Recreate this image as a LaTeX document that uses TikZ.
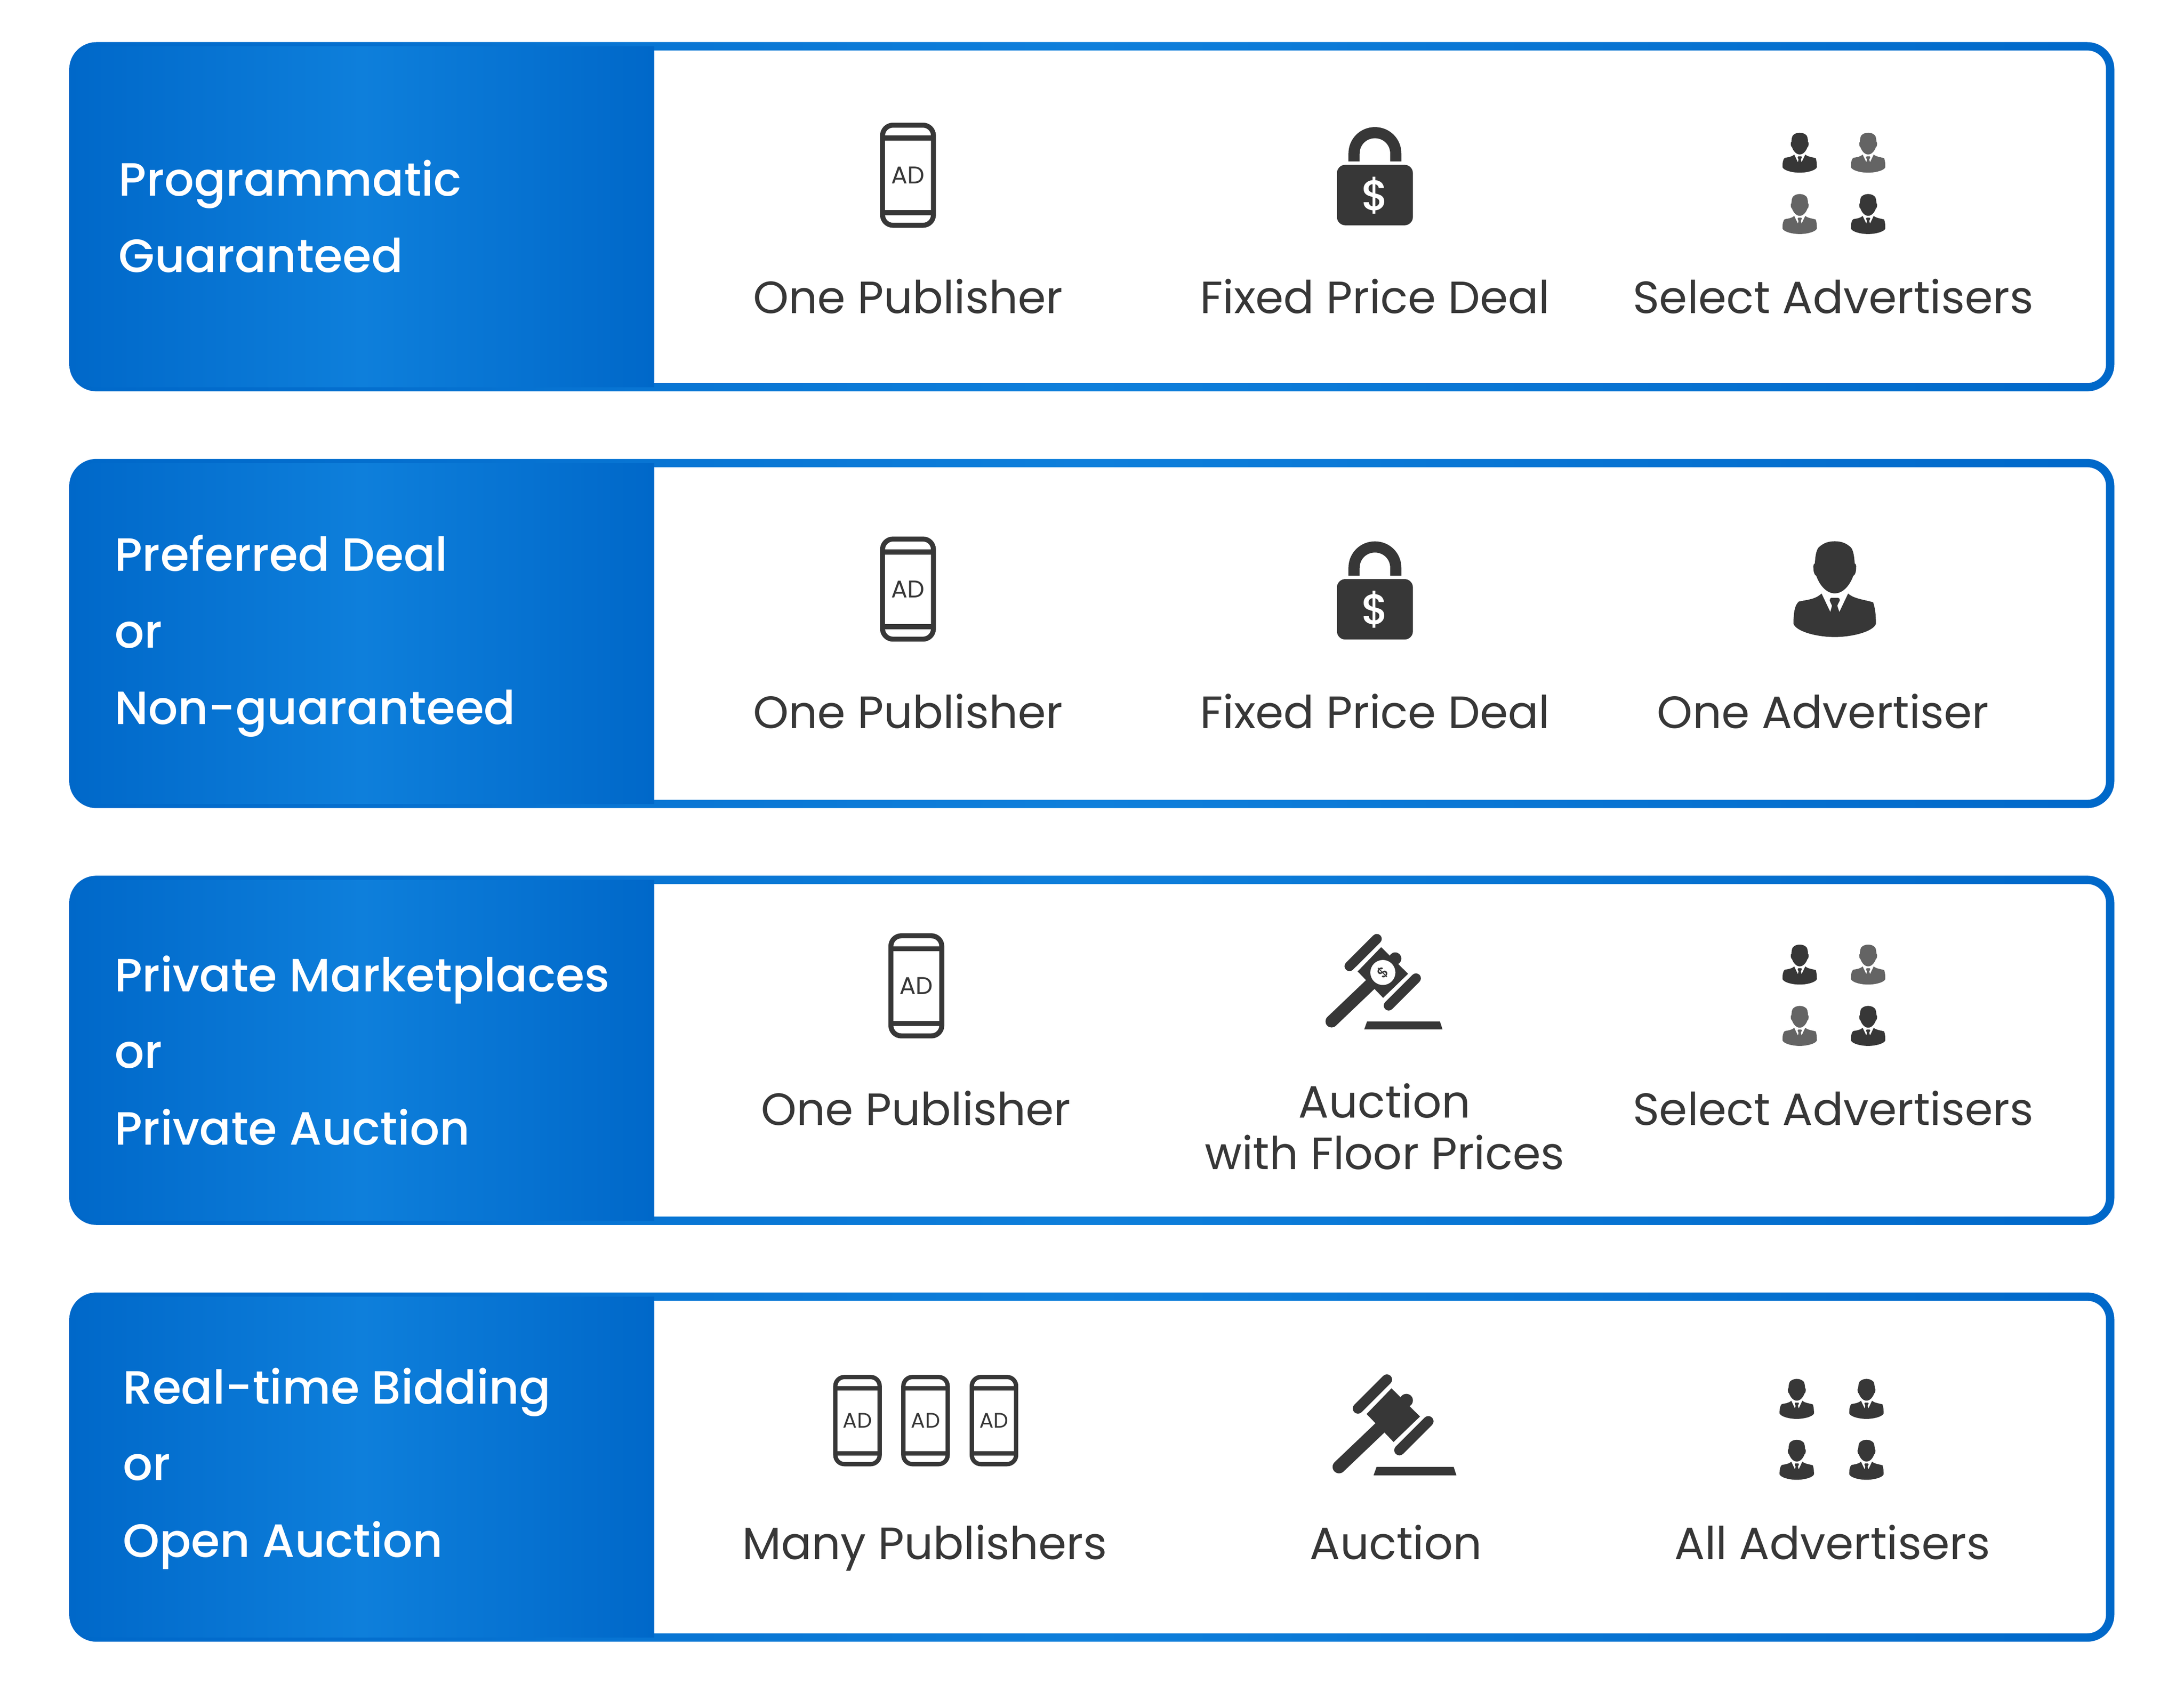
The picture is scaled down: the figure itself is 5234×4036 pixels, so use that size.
\documentclass[tikz,border=0pt]{standalone}
\usepackage{fontspec}
\usepackage{xcolor}
\setmainfont{Poppins}
\newfontfamily\titlefont{Poppins Medium}
\definecolor{banddark}{HTML}{0068C9}
\definecolor{bandlight}{HTML}{0E7FDB}
\definecolor{icondark}{HTML}{373737}
\definecolor{icongray}{HTML}{646464}
\usetikzlibrary{positioning}
\pgfdeclarehorizontalshading{bandfade}{100bp}{color(0bp)=(banddark);color(25bp)=(banddark);color(50bp)=(bandlight);color(75bp)=(banddark);color(100bp)=(banddark)}

\tikzset{
  title/.style={anchor=base west,inner sep=0pt,text=white,font=\titlefont\fontsize{31.8}{37}\selectfont},
  caption/.style={anchor=base,inner sep=0pt,text=icondark,align=center,font=\fontsize{30.8}{35}\selectfont},
  pics/panel/.style={code={
    \shade[shading=bandfade,rounded corners=.65cm] (0,0) rectangle (4901,837);
    \fill[white,rounded corners=.45cm] (1300,20) rectangle (4881,817);
    \shade[shading=bandfade] (1402,10) {[rounded corners=.6cm] -- (0,10) -- (0,827)} -- (1402,827) -- cycle;
  }},
  pics/phone/.style={code={
    \begin{scope}[scale=#1]
      \draw[icondark,line width=#1*3.4pt,rounded corners=#1*.25cm] (-61,-120) rectangle (61,120);
      \draw[icondark,line width=#1*3.4pt] (-61,-89) -- (61,-89) (-61,90) -- (61,90);
      \node[scale=#1,inner sep=0pt,text=icondark,font=\fontsize{16.5}{18}\selectfont] (-ad) at (0,0) {AD};
    \end{scope}
  }},
  pics/lock/.style={code={
    \fill[icondark,rounded corners=.2cm] (-91,-72) rectangle (91,73);
    \draw[icondark,line width=7.6pt] (-50,-80) -- (-50,-99) .. controls (-50,-127) and (-28,-149) .. (0,-149)
      .. controls (28,-149) and (50,-127) .. (50,-99) -- (50,-80);
    \node[inner sep=0pt,text=white,font=\titlefont\fontsize{29}{31}\selectfont] (-sign) at (0,1) {\$};
  }},
  pics/person/.style 2 args={code={
    \begin{scope}[scale=#1]
      \fill[#2] (0,-344) .. controls (58,-344) and (88,-325) .. (116,-300) .. controls (133,-280) and (141,-235) .. (143,-185)
        .. controls (153,-180) and (155,-170) .. (154,-155) .. controls (154,-125) and (146,-100) .. (133,-95)
        .. controls (108,-25) and (58,31) .. (0,31) .. controls (-58,31) and (-108,-25) .. (-133,-95)
        .. controls (-146,-100) and (-154,-125) .. (-154,-155) .. controls (-155,-170) and (-153,-180) .. (-143,-185)
        .. controls (-141,-235) and (-133,-280) .. (-116,-300) .. controls (-88,-325) and (-58,-344) .. (0,-344) -- cycle;
      \fill[#2] (-95,32) -- (-32,165) -- (-20,120) .. controls (-28,100) and (-38,85) .. (-36,78)
        .. controls (-34,68) and (-30,63) .. (-24,63) -- (24,63) .. controls (30,63) and (36,70) .. (36,80)
        .. controls (36,85) and (26,100) .. (18,120) -- (33,165) -- (96,32)
        .. controls (138,70) and (208,75) .. (276,95) .. controls (293,145) and (296,195) .. (296,250)
        .. controls (278,305) and (128,345) .. (0,345) .. controls (-132,345) and (-277,305) .. (-297,250)
        .. controls (-297,165) and (-287,115) .. (-259,90) .. controls (-192,75) and (-142,75) .. (-95,32) -- cycle;
    \end{scope}
  }},
  pics/gavel/.style={code={
    \begin{scope}[scale=#1]
      \draw[icondark,line width=#1*8.8pt,line cap=round] (0,0) -- (-130,124);
      \fill[icondark] (-4.3,-64.3) -- (64,3.3) -- (.7,64.3) -- (-64,-2.7) -- cycle;
      \fill[icondark] (31.3,-35.3) circle [radius=15.7];
      \draw[icondark,line width=#1*7.1pt,line cap=round] (-15.3,-85.3) -- (-84.7,-16) (84,14.7) -- (14.7,84);
      \fill[icondark] (-40,124) -- (144.7,124) -- (151.3,144.3) -- (-47.3,144.3) -- cycle;
    \end{scope}
  }},
}

\begin{document}
\begin{tikzpicture}[x=.01cm,y=-.01cm]
\useasboundingbox (0,0) rectangle (5234,4036);

\pic (PG_panel) at (166,101) {panel};
\pic (PD_panel) at (166,1100) {panel};
\pic (PM_panel) at (166,2099) {panel};
\pic (RT_panel) at (166,3098) {panel};

\node[title] (PG_t1) at (284,469) {Programmatic};
\node[title] (PG_t2) at (284,653) {Guaranteed};
\node[title] (PD_t1) at (274,1369) {Preferred Deal};
\node[title] (PD_t2) at (274,1553) {or};
\node[title] (PD_t3) at (274,1736) {Non-guaranteed};
\node[title] (PM_t1) at (274,2377) {Private Marketplaces};
\node[title] (PM_t2) at (274,2560) {or};
\node[title] (PM_t3) at (274,2744) {Private Auction};
\node[title] (RT_t1) at (294,3365) {Real-time Bidding};
\node[title] (RT_t2) at (294,3548) {or};
\node[title] (RT_t3) at (294,3732) {Open Auction};

\pic (PG_phone) at (2176,420) {phone=1};
\pic (PG_lock) at (3295,467) {lock};
\pic (PG_adv1) at (4313,366) {person={.139}{icondark}};
\pic (PG_adv2) at (4477,366) {person={.139}{icongray}};
\pic (PG_adv3) at (4313,513) {person={.139}{icongray}};
\pic (PG_adv4) at (4477,513) {person={.139}{icondark}};
\node[caption] (PG_pub) at (2176,751) {One Publisher};
\node[caption] (PG_deal) at (3295,751) {Fixed Price Deal};
\node[caption] (PG_who) at (4393,751) {Select Advertisers};

\pic (PD_phone) at (2176,1412) {phone=1};
\pic (PD_lock) at (3295,1460) {lock};
\pic (PD_adv) at (4397,1412) {person={.333}{icondark}};
\node[caption] (PD_pub) at (2176,1745) {One Publisher};
\node[caption] (PD_deal) at (3295,1745) {Fixed Price Deal};
\node[caption] (PD_who) at (4369,1745) {One Advertiser};

\pic (PM_phone) at (2196,2363) {phone=1};
\pic (PM_gavel) at (3314,2331) {gavel=.945};
\fill[white] (3314,2331) circle [radius=30];
\node[inner sep=0pt,rotate=45,text=icondark,font=\titlefont\fontsize{10}{12}\selectfont] (PM_sign) at (3314,2331) {\$};
\pic (PM_adv1) at (4313,2312) {person={.139}{icondark}};
\pic (PM_adv2) at (4477,2312) {person={.139}{icongray}};
\pic (PM_adv3) at (4313,2459) {person={.139}{icongray}};
\pic (PM_adv4) at (4477,2459) {person={.139}{icondark}};
\node[caption] (PM_pub) at (2195,2697) {One Publisher};
\node[caption] (PM_deal) at (3318,2679) {Auction};
\node[caption] (PM_floor) at (3318,2803) {with Floor Prices};
\node[caption] (PM_who) at (4393,2697) {Select Advertisers};

\pic (RT_phone1) at (2055,3405) {phone=.87};
\pic (RT_phone2) at (2218,3405) {phone=.87};
\pic (RT_phone3) at (2382,3405) {phone=.87};
\pic (RT_gavel) at (3339,3392) {gavel=1};
\pic (RT_adv1) at (4306,3353) {person={.139}{icondark}};
\pic (RT_adv2) at (4473,3353) {person={.139}{icondark}};
\pic (RT_adv3) at (4306,3499) {person={.139}{icondark}};
\pic (RT_adv4) at (4473,3499) {person={.139}{icondark}};
\node[caption] (RT_pub) at (2216,3738) {Many Publishers};
\node[caption] (RT_deal) at (3345,3738) {Auction};
\node[caption] (RT_who) at (4391,3738) {All Advertisers};
\end{tikzpicture}
\end{document}
